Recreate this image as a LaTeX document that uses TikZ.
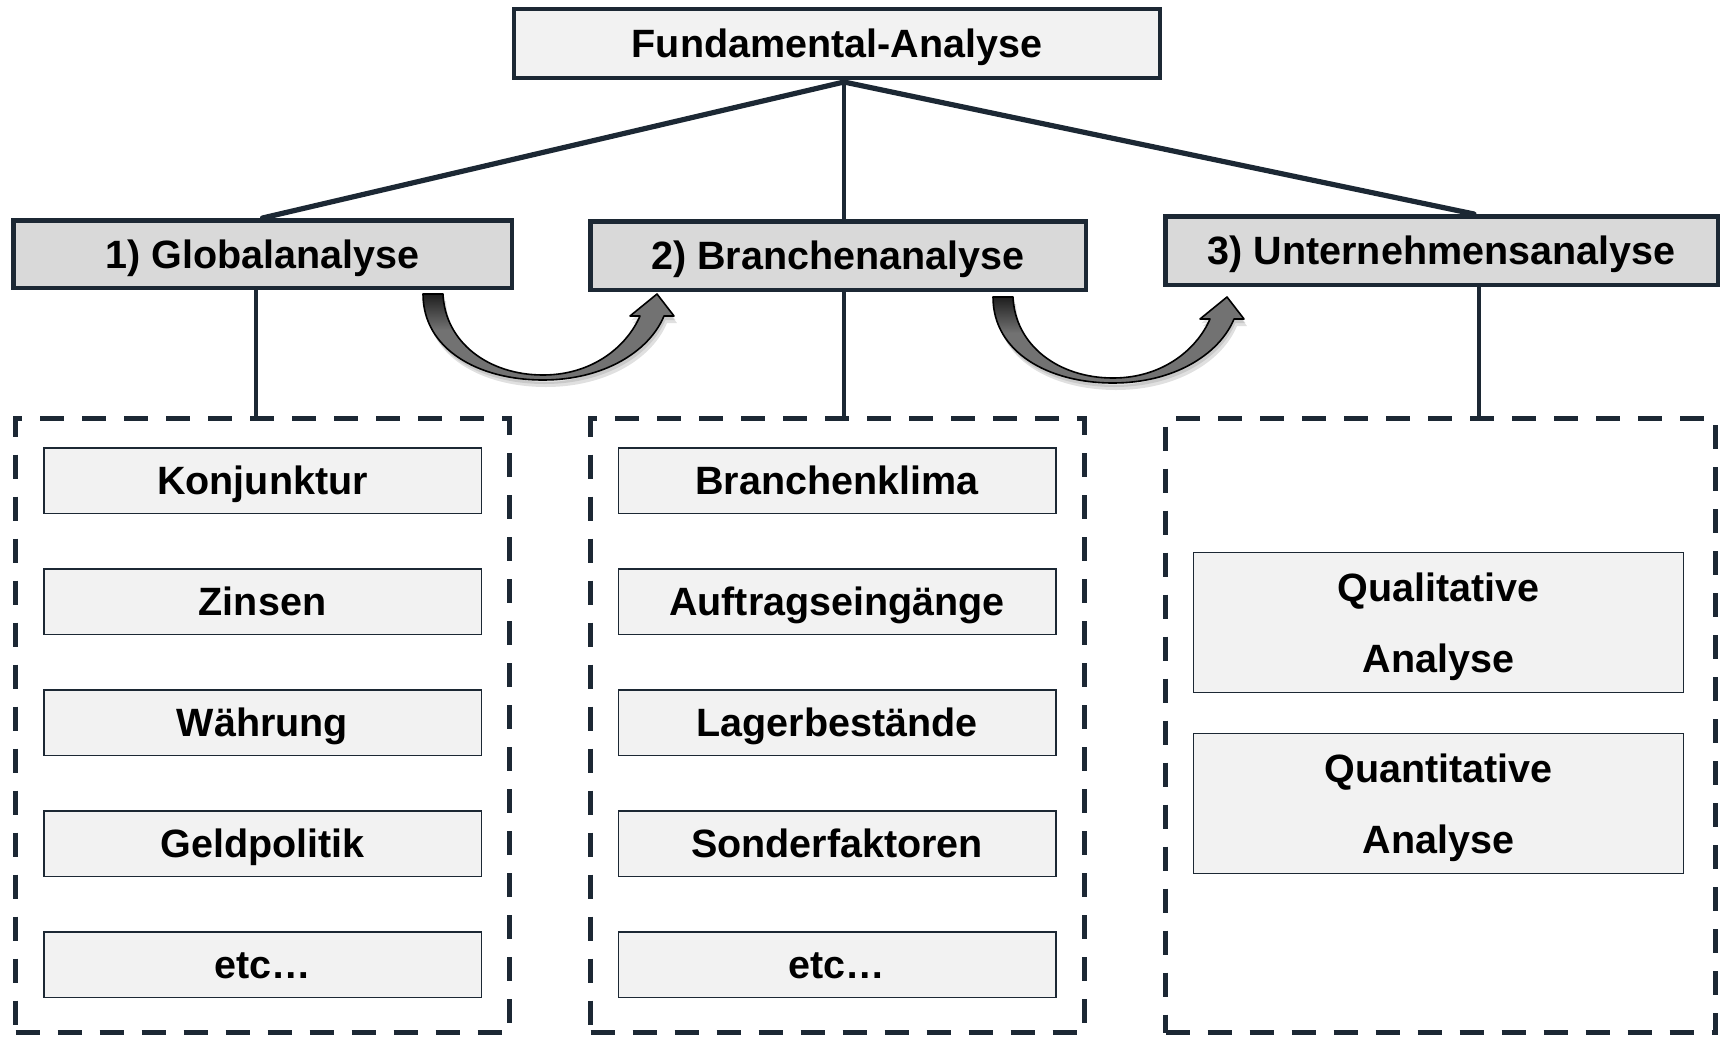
\documentclass[tikz,border=0pt]{standalone}
\usepackage{fontspec}
\setmainfont{Liberation Sans}
\usetikzlibrary{calc}

\definecolor{navy}{HTML}{1C2834}
\definecolor{paleface}{HTML}{F2F2F2}
\definecolor{midface}{HTML}{D9D9D9}
\definecolor{arrowgray}{HTML}{727272}

\tikzset{
  labelfont/.style={font=\bfseries\fontsize{19.75pt}{35.5pt}\selectfont, text=black, align=center,
                    inner sep=0pt, text height=14.15pt, text depth=0pt},
  twoline/.style={text height=49.65pt},
  rootbox/.style={labelfont, draw=navy, line width=2.25pt, fill=paleface},
  levelbox/.style={labelfont, draw=navy, line width=2.25pt, fill=midface},
  itembox/.style={labelfont, draw=navy, line width=0.75pt, fill=paleface,
                  minimum width=218.75pt, minimum height=32.75pt},
  groupbox/.style={draw=navy, line width=2.6pt, dash pattern=on 12pt off 9pt,
                   minimum height=307pt, inner sep=0pt},
  link/.style={draw=navy, line width=2pt},
  slant/.style={draw=navy, line width=2.6pt},
  bendoutline/.style={insert path={
      (0,0) .. controls (0,55) and (55,86) .. (120,86)
            .. controls (180,86) and (226,58) .. (241,22)
      -- (251,22) -- (234,0) -- (207,22) -- (217,22)
            .. controls (204,52) and (170,81) .. (120,81)
            .. controls (65,81) and (22,48) .. (20,0) -- cycle}},
  pics/bendarrow/.style={code={
      % soft shadow below the arrow body
      \fill[black, opacity=0.12, shift={(3,7)}, bendoutline];
      \fill[black, opacity=0.10, shift={(1.5,4)}, bendoutline];
      \fill[arrowgray, bendoutline];
      % darker tail end
      \begin{scope}
        \clip[bendoutline];
        \shade[top color=black!90, bottom color=arrowgray] (-4,-2) rectangle (32,36);
      \end{scope}
      \draw[black, line width=0.8pt, line join=round, bendoutline];
  }}
}

\begin{document}
\begin{tikzpicture}[x=0.5pt, y=-0.5pt]
  \useasboundingbox (0,0) rectangle (1723,1039);

  % head of the hierarchy
  \node[rootbox, minimum width=323pt, minimum height=34.5pt] (root) at (837,43.5) {Fundamental-Analyse};

  % the three stages
  \node[levelbox, minimum width=249.25pt, minimum height=33.75pt] (b1) at (262.5,254) {1) Globalanalyse};
  \node[levelbox, minimum width=247.75pt, minimum height=34.25pt] (b2) at (838,255.5) {2) Branchenanalyse};
  \node[levelbox, minimum width=276.25pt, minimum height=34.25pt] (b3) at (1441.5,250.5) {3) Unternehmensanalyse};

  % dashed groups of factors
  \node[groupbox, minimum width=247pt] (d1) at (262.5,725.5) {};
  \node[groupbox, minimum width=247pt] (d2) at (837.5,725.5) {};
  \node[groupbox, minimum width=275pt] (d3) at (1440.5,725.5) {};

  % factors of the global analysis
  \node[itembox] (g1) at (262.5,480.5) {Konjunktur};
  \node[itembox] (g2) at (262.5,601.5) {Zinsen};
  \node[itembox] (g3) at (262.5,722.5) {Währung};
  \node[itembox] (g4) at (262.5,843.5) {Geldpolitik};
  \node[itembox] (g5) at (262.5,964.5) {etc…};

  % factors of the sector analysis
  \node[itembox] (s1) at (837,480.5) {Branchenklima};
  \node[itembox] (s2) at (837,601.5) {Auftragseingänge};
  \node[itembox] (s3) at (837,722.5) {Lagerbestände};
  \node[itembox] (s4) at (837,843.5) {Sonderfaktoren};
  \node[itembox] (s5) at (837,964.5) {etc…};

  % company analysis
  \node[itembox, twoline, minimum width=245pt, minimum height=70pt] (u1) at (1438.5,622.5) {Qualitative\\Analyse};
  \node[itembox, twoline, minimum width=245pt, minimum height=70pt] (u2) at (1438.5,803.5) {Quantitative\\Analyse};

  % fan-out from the head
  \coordinate (apex) at (844,82);
  \coordinate (t3) at (1474,0);
  \draw[slant, line cap=round] (apex) -- (b1.north);
  \draw[link] (apex) -- (b2.north -| apex);
  \draw[slant, line cap=round] (apex) -- (b3.north -| t3);

  % stage to group
  \coordinate (v1) at (256,0);
  \coordinate (v2) at (844,0);
  \coordinate (v3) at (1479,0);
  \draw[link] (b1.south -| v1) -- (d1.north -| v1);
  \draw[link] (b2.south -| v2) -- (d2.north -| v2);
  \draw[link] (b3.south -| v3) -- (d3.north -| v3);

  % curved transition arrows between the stages
  \pic at (423,294) {bendarrow};
  \pic at (993,297) {bendarrow};
\end{tikzpicture}
\end{document}
